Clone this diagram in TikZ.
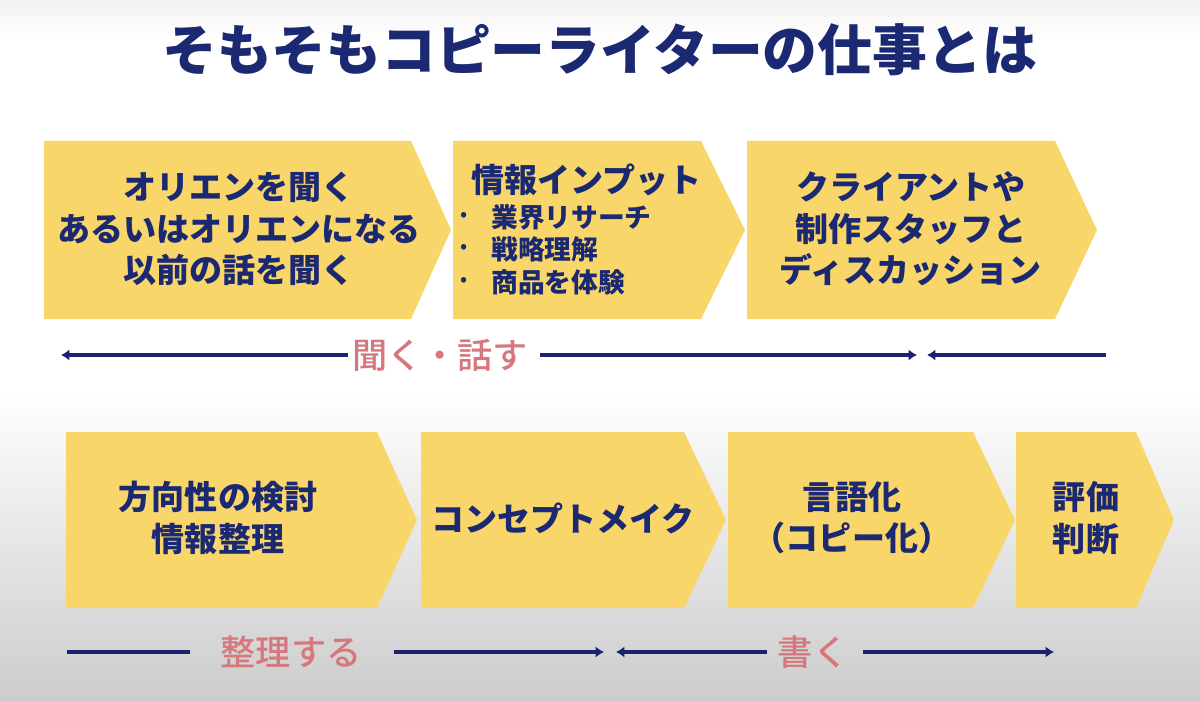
\documentclass[tikz,border=0pt]{standalone}
\usepackage{fontspec}
\setmainfont{Noto Sans CJK JP}
\newfontfamily\jpmedium{Noto Sans CJK JP Medium}
\usepackage{xcolor}
\usetikzlibrary{arrows.meta}

\definecolor{boxyellow}{HTML}{F8D66A}
\definecolor{textnavy}{HTML}{1B2872}
\definecolor{linenavy}{HTML}{1A2370}
\definecolor{labelpink}{HTML}{D6767D}

\begin{document}
\begin{tikzpicture}[x=0.025cm,y=-0.025cm,
  steptext/.style={text=textnavy, font=\bfseries\fontsize{23.5pt}{29.5pt}\selectfont, align=center, inner sep=0pt},
  itemtext/.style={text=textnavy, font=\bfseries\fontsize{19pt}{22pt}\selectfont, inner sep=0pt},
  spanline/.style={draw=linenavy, line width=2.8pt},
  spanlabel/.style={text=labelpink, font=\jpmedium\fontsize{25pt}{30pt}\selectfont, inner sep=0pt}]

\useasboundingbox (0,0) rectangle (1200,701);
\fill[white] (0,0) rectangle (1200,701);
\shade[top color=gray!10, bottom color=white] (0,0) rectangle (1200,40);
\shade[top color=white, bottom color=gray!40] (0,390) rectangle (1200,701);

% title
\node[text=textnavy, font=\bfseries\fontsize{39pt}{44pt}\selectfont, inner sep=0pt] (title) at (600,50) {そもそもコピーライターの仕事とは};

% upper row
\fill[boxyellow] (44,141) -- (411,141) -- (451,230) -- (411,319) -- (44,319) -- cycle;
\fill[boxyellow] (453,141) -- (701,141) -- (745,230) -- (701,319) -- (453,319) -- cycle;
\fill[boxyellow] (747,141) -- (1055,141) -- (1097,230) -- (1055,319) -- (747,319) -- cycle;

\node[steptext] (orien) at (239,229) {オリエンを聞く\\あるいはオリエンになる\\以前の話を聞く};

\node[steptext, anchor=west] (input) at (471,180) {情報インプット};
\node[itemtext, font=\fontsize{15pt}{18pt}\selectfont] (dot1) at (464,217) {•};
\node[itemtext, font=\fontsize{15pt}{18pt}\selectfont] (dot2) at (464,249) {•};
\node[itemtext, font=\fontsize{15pt}{18pt}\selectfont] (dot3) at (464,282) {•};
\node[itemtext, anchor=west] (item1) at (491,217) {業界リサーチ};
\node[itemtext, anchor=west] (item2) at (491,249) {戦略理解};
\node[itemtext, anchor=west] (item3) at (491,282) {商品を体験};

\node[steptext] (discuss) at (911,229) {クライアントや\\制作スタッフと\\ディスカッション};

% lower row
\fill[boxyellow] (66,432) -- (377,432) -- (417,520) -- (377,608) -- (66,608) -- cycle;
\fill[boxyellow] (421,432) -- (684,432) -- (726,520) -- (684,608) -- (421,608) -- cycle;
\fill[boxyellow] (728,432) -- (973,432) -- (1015,520) -- (973,608) -- (728,608) -- cycle;
\fill[boxyellow] (1016,432) -- (1136,432) -- (1174,520) -- (1136,608) -- (1016,608) -- cycle;

\node[steptext] (direction) at (218,518) {方向性の検討\\情報整理};
\node[steptext] (concept) at (563,518) {コンセプトメイク};
\node[steptext] (verbal) at (852,518) {言語化\\（コピー化）};
\node[steptext] (judge) at (1086,518) {評価\\判断};

% spans
\node[spanlabel] (listen) at (440,355) {聞く・話す};
\node[spanlabel] (arrange) at (291,652) {整理する};
\node[spanlabel] (write) at (813,652) {書く};

\coordinate (l1) at (61,355);
\coordinate (l2) at (917,355);
\coordinate (l3) at (927,355);
\coordinate (l4) at (1106,355);
\coordinate (w1) at (67,652);
\coordinate (w2) at (190,652);
\coordinate (w3) at (394,652);
\coordinate (w4) at (604,652);
\coordinate (w5) at (616,652);
\coordinate (w6) at (767,652);
\coordinate (w7) at (863,652);
\coordinate (w8) at (1054,652);

\draw[spanline, -{Latex[length=6pt,width=8pt]}] ([xshift=-0.1cm]listen.west) -- (l1);
\draw[spanline, -{Latex[length=6pt,width=8pt]}] ([xshift=0.3cm]listen.east) -- (l2);
\draw[spanline, -{Latex[length=6pt,width=8pt]}] (l4) -- (l3);

\draw[spanline] (w1) -- (w2);
\draw[spanline, -{Latex[length=6pt,width=8pt]}] (w3) -- (w4);
\draw[spanline, -{Latex[length=6pt,width=8pt]}] (w6) -- (w5);
\draw[spanline, -{Latex[length=6pt,width=8pt]}] (w7) -- (w8);

\end{tikzpicture}
\end{document}
